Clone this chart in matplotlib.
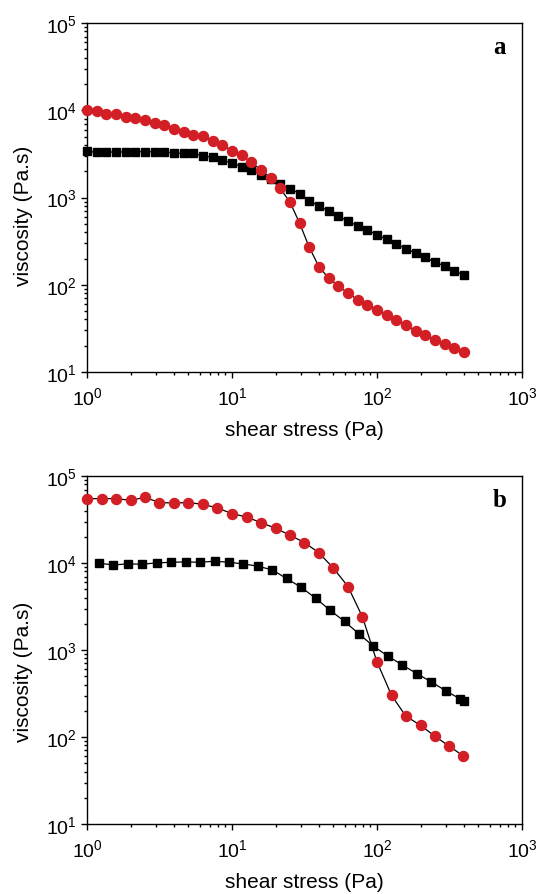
import matplotlib
matplotlib.use('Agg')
import matplotlib.pyplot as plt
from matplotlib.ticker import LogLocator, NullFormatter

plt.rcParams['font.family'] = ['Liberation Sans', 'DejaVu Sans']
plt.rcParams['mathtext.fontset'] = 'custom'
plt.rcParams['mathtext.rm'] = 'Liberation Sans'

RED = '#d21f26'

# panel a: 15 points per decade
stress_a = [1.00, 1.17, 1.36, 1.58, 1.85, 2.15, 2.51, 2.93, 3.41, 3.98,
            4.64, 5.41, 6.31, 7.36, 8.58, 10.0, 11.7, 13.6, 15.8, 18.5,
            21.5, 25.1, 29.3, 34.1, 39.8, 46.4, 54.1, 63.1, 73.6, 85.8,
            100, 117, 136, 158, 185, 215, 251, 293, 341, 398]
visc_a_black = [3380, 3300, 3320, 3320, 3320, 3350, 3350, 3350, 3320, 3240,
                3210, 3210, 2990, 2890, 2670, 2490, 2250, 2050, 1830, 1630,
                1430, 1260, 1110, 919, 799, 700, 614, 538, 471, 424,
                375, 332, 293, 259, 231, 206, 182, 164, 144, 129]
visc_a_red = [10070, 9730, 9120, 8990, 8370, 8150, 7670, 7200, 6730, 6100,
              5630, 5200, 5030, 4440, 4000, 3440, 3050, 2530, 2080, 1670,
              1270, 888, 506, 269, 161, 119, 96.8, 80.4, 67.4, 58.6,
              51.4, 45.4, 39.2, 34.8, 29.7, 26.4, 23.3, 21.1, 18.8, 17.0]

# panel b: 10 points per decade
stress_b_black = [1.21, 1.52, 1.91, 2.39, 3.03, 3.79, 4.80, 6.01, 7.60, 9.53,
                  12.0, 15.1, 19.0, 23.8, 29.9, 37.8, 47.4, 59.8, 75.2, 94.4,
                  119, 149, 189, 237, 298, 376, 398]
visc_b_black = [9950, 9510, 9770, 9690, 10030, 10200, 10300, 10200, 10500, 10200,
                9770, 9190, 8330, 6640, 5270, 3940, 2870, 2130, 1530, 1110,
                851, 676, 533, 431, 340, 273, 261]
stress_b_red = [1.0, 1.26, 1.58, 2.0, 2.51, 3.16, 3.98, 5.01, 6.31, 7.94,
                10, 12.6, 15.8, 20, 25.1, 31.6, 39.8, 50.1, 63.1, 79.4,
                100, 126, 158, 200, 251, 316, 394]
visc_b_red = [55000, 55000, 55000, 52600, 56900, 49500, 49000, 49500, 47300, 42900,
              37000, 33800, 29200, 25100, 20900, 17200, 13100, 8720, 5370, 2400,
              732, 302, 174, 136, 102, 78.2, 60.5]

fig = plt.figure(figsize=(5.37, 8.95), dpi=100)
ax1 = fig.add_axes([0.162, 0.5832, 0.810, 0.390])
ax2 = fig.add_axes([0.162, 0.0782, 0.810, 0.3888])


def draw(ax, xb, yb, xr, yr, tag, ylab_y):
    ax.plot(xb, yb, '-', color='k', lw=0.9, marker='s', ms=6.2,
            mfc='k', mec='k', clip_on=False, zorder=3)
    ax.plot(xr, yr, '-', color='k', lw=0.9, marker='o', ms=7.2,
            mfc=RED, mec=RED, clip_on=False, zorder=4)
    ax.set_xscale('log')
    ax.set_yscale('log')
    ax.set_xlim(1, 1000)
    ax.set_ylim(10, 1e5)
    ax.xaxis.set_major_locator(LogLocator(base=10, numticks=10))
    ax.yaxis.set_major_locator(LogLocator(base=10, numticks=10))
    for axis in (ax.xaxis, ax.yaxis):
        axis.set_minor_locator(LogLocator(base=10, subs=range(2, 10), numticks=20))
        axis.set_minor_formatter(NullFormatter())
    ax.tick_params(which='both', direction='out', top=False, right=False, width=1)
    ax.tick_params(which='major', length=4.5, labelsize=14)
    ax.tick_params(axis='x', which='major', pad=6)
    ax.tick_params(axis='y', which='major', pad=3)
    ax.tick_params(which='minor', length=2.5)
    for sp in ax.spines.values():
        sp.set_linewidth(1)
    ax.set_xlabel('shear stress (Pa)', fontsize=15)
    ax.set_ylabel('viscosity (Pa.s)', fontsize=15)
    ax.xaxis.set_label_coords(0.5, -0.137)
    ax.yaxis.set_label_coords(-0.124, ylab_y)
    ax.text(0.948, 0.915, tag, transform=ax.transAxes, ha='center', va='baseline',
            fontsize=18, fontweight='bold', family='Liberation Serif')


draw(ax1, stress_a, visc_a_black, stress_a, visc_a_red, 'a', 0.45)
draw(ax2, stress_b_black, visc_b_black, stress_b_red, visc_b_red, 'b', 0.44)

fig.savefig('out.png', dpi=100)
